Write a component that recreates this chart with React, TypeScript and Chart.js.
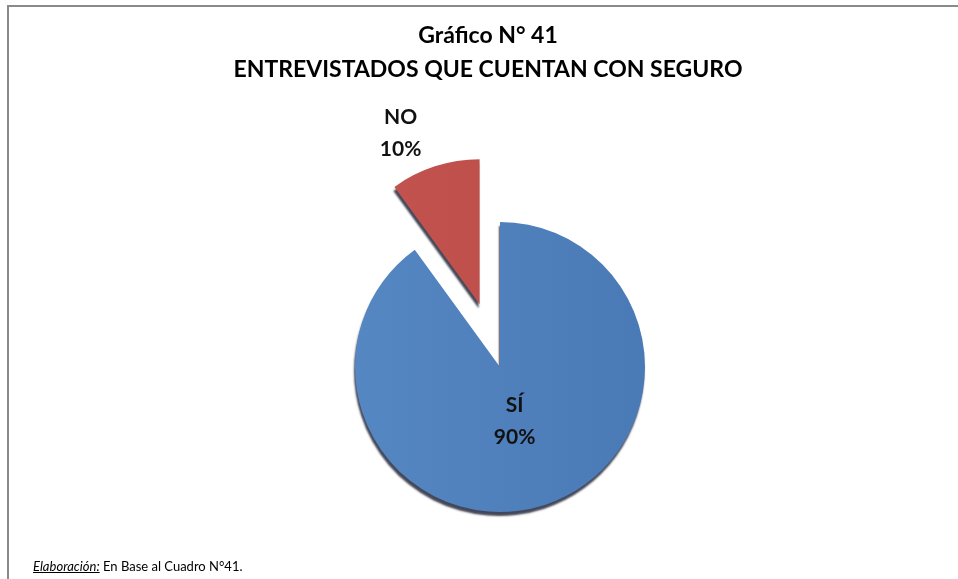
import { useEffect, useRef } from 'react';
import { Chart, registerables } from 'chart.js';

Chart.register(...registerables);

const categories = ['SÍ', 'NO'];
const percentages = [90, 10];
const titleLines = ['Gráfico N° 41', 'ENTREVISTADOS QUE CUENTAN CON SEGURO'];
const footerLabel = 'Elaboración:';
const footerText = ' En Base al Cuadro N°41.';
const sliceColors = ['#5587c3', '#c4544f'];
const sliceShades = ['#4a7ab5', '#bb4b48'];
const sliceExplode = [0, 66];
const labelRadius = [0.39, 1.755];
const labelAngleShift = [3, -5];

const FONT = 'Lato, "Open Sans", sans-serif';

const shiftAreaPlugin = {
  id: 'shiftArea',
  afterLayout(chart: any) {
    const a = chart.chartArea;
    a.left += 24;
    a.width = a.right - a.left;
  },
};

// Explode slices by translating them, keeping the same radius (Excel style)
const explodePlugin = {
  id: 'explode',
  afterDatasetUpdate(chart: any, args: any) {
    const meta = args.meta;
    meta.data.forEach((arc: any, i: number) => {
      if (arc.__wrapped) return;
      const orig = arc.draw;
      arc.draw = function (ctx: CanvasRenderingContext2D, area: any) {
        const d = sliceExplode[i] || 0;
        const mid = (this.startAngle + this.endAngle) / 2;
        ctx.save();
        ctx.translate(Math.cos(mid) * d, Math.sin(mid) * d);
        orig.call(this, ctx, area);
        ctx.restore();
      };
      arc.__wrapped = true;
    });
  },
};

const shadowPlugin = {
  id: 'pieShadow',
  beforeDatasetsDraw(chart: any) {
    const ctx = chart.ctx;
    ctx.save();
    ctx.shadowColor = 'rgba(20,25,45,0.8)';
    ctx.shadowOffsetX = -1;
    ctx.shadowOffsetY = 4;
    ctx.shadowBlur = 2;
  },
  afterDatasetsDraw(chart: any) {
    chart.ctx.restore();
  },
};

const labelPlugin = {
  id: 'sliceLabels',
  afterDraw(chart: any) {
    const ctx = chart.ctx;
    const meta = chart.getDatasetMeta(0);
    ctx.save();
    ctx.font = `bold 21px ${FONT}`;
    ctx.fillStyle = '#111';
    ctx.textAlign = 'center';
    ctx.textBaseline = 'middle';
    meta.data.forEach((arc: any, i: number) => {
      const p = arc.getProps(['x', 'y', 'startAngle', 'endAngle', 'outerRadius'], true);
      const mid = (p.startAngle + p.endAngle) / 2 + (labelAngleShift[i] * Math.PI) / 180;
      const r = p.outerRadius * labelRadius[i];
      const x = p.x + Math.cos(mid) * r;
      const y = p.y + Math.sin(mid) * r;
      const lines = [categories[i], `${percentages[i]}%`];
      ctx.fillText(lines[0], x, y - 16);
      ctx.fillText(lines[1], x, y + 16);
    });
    ctx.restore();
  },
};

export default function App() {
  const ref = useRef<HTMLCanvasElement | null>(null);

  useEffect(() => {
    if (!ref.current) return;
    const chart = new Chart(ref.current, {
      type: 'pie',
      data: {
        labels: categories,
        datasets: [
          {
            data: percentages,
            backgroundColor: (c: any) => {
              const i = c.dataIndex ?? 0;
              const area = c.chart.chartArea;
              if (!area) return sliceColors[i];
              const cx = (area.left + area.right) / 2;
              const g = c.chart.ctx.createLinearGradient(cx - 150, 0, cx + 150, 0);
              g.addColorStop(0, sliceColors[i]);
              g.addColorStop(1, sliceShades[i]);
              return g;
            },
            offset: 0,
            borderWidth: 0,
            hoverOffset: 0,
          },
        ],
      },
      options: {
        responsive: false,
        animation: false,
        layout: { padding: { top: 0, bottom: 67, left: 0, right: 0 } },
        plugins: {
          legend: { display: false },
          tooltip: { enabled: false },
          title: {
            display: true,
            text: titleLines,
            color: '#000',
            font: { family: FONT, size: 23, weight: 'bold', lineHeight: 34 / 23 },
            padding: { top: 12, bottom: 135 },
          },
        },
      },
      plugins: [shiftAreaPlugin, explodePlugin, shadowPlugin, labelPlugin],
    } as any);
    return () => chart.destroy();
  }, []);

  return (
    <div
      style={{
        position: 'fixed',
        left: 0,
        top: 0,
        width: 958,
        height: 579,
        overflow: 'hidden',
        background: '#fff',
      }}
    >
      <div
        style={{
          position: 'absolute',
          left: 7,
          top: 5,
          width: 980,
          height: 720,
          borderTop: '2px solid #8a8a8a',
          borderLeft: '2px solid #8a8a8a',
        }}
      />
      <canvas
        ref={ref}
        width={958}
        height={572}
        style={{ position: 'absolute', left: 9, top: 7, width: 958, height: 572 }}
      />
      <div
        style={{
          position: 'absolute',
          left: 33,
          top: 558,
          fontFamily: FONT,
          fontSize: 13,
          lineHeight: '16px',
          color: '#000',
          whiteSpace: 'pre',
        }}
      >
        <span style={{ fontStyle: 'italic', textDecoration: 'underline' }}>{footerLabel}</span>
        {footerText}
      </div>
    </div>
  );
}
